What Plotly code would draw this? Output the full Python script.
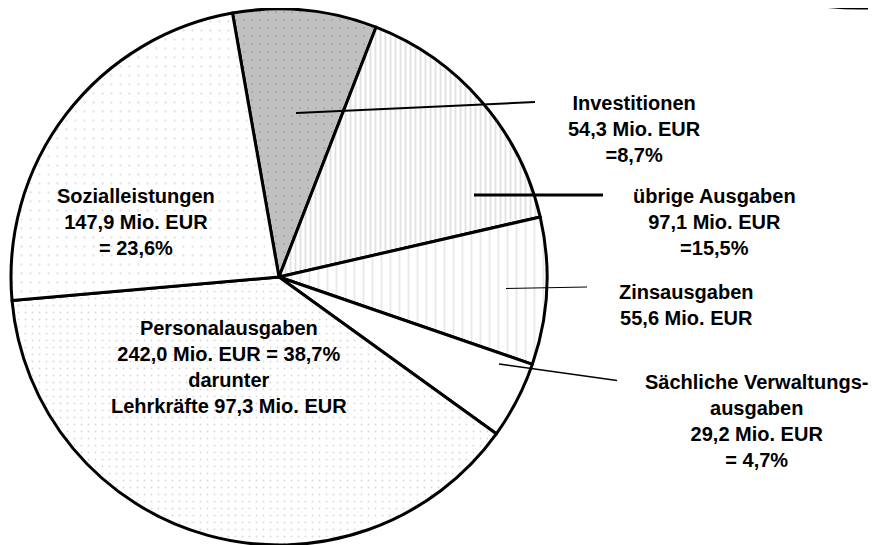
import plotly.graph_objects as go

# ---- data ----
categories = ["Investitionen", "übrige Ausgaben", "Zinsausgaben",
              "Sächliche Verwaltungsausgaben", "Personalausgaben", "Sozialleistungen"]
values_mio_eur = [54.3, 97.1, 55.6, 29.2, 242.0, 147.9]
label_texts = [
    "Investitionen<br>54,3 Mio. EUR<br>=8,7%",
    "übrige Ausgaben<br>97,1 Mio. EUR<br>=15,5%",
    "Zinsausgaben<br>55,6 Mio. EUR",
    "Sächliche Verwaltungs-<br>ausgaben<br>29,2 Mio. EUR<br>= 4,7%",
    "Personalausgaben<br>242,0 Mio. EUR = 38,7%<br>darunter<br>Lehrkräfte 97,3 Mio. EUR",
    "Sozialleistungen<br>147,9 Mio. EUR<br>= 23,6%",
]

# ---- layout / style ----
OFF = 8                      # page body margin
W, H = 876 - OFF, 545 - OFF  # figure size that fits the window
def px(x, y):
    return (x - OFF) / W, 1 - (y - OFF) / H

fill_colors = ["#c0c0c0", "white", "white", "white", "white", "white"]
pattern_shapes = [".", "|", "|", "", ".", "."]
pattern_fg = ["#8f8f8f", "#c4c4c4", "#d2d2d2", "#ffffff", "#b4b4b4", "#c4c4c4"]
pattern_size = [8, 5, 9, 8, 7, 9]
pattern_solid = [0.06, 0.38, 0.2, 0.1, 0.06, 0.05]

# label centres (pixels) and leader lines (pixels)
label_pos = [(634, 129), (714, 222), (686, 305), (756, 421), (229, 367), (136, 222)]
leaders = [((296, 113), (535, 102), 2),
           ((474, 195), (603, 195), 3),
           ((506, 288.5), (587, 287), 1),
           ((499, 364), (617, 380.5), 1.5)]

cx, cy, r = 279, 277, 268
dx0, dx1 = px(cx - r, 0)[0], px(cx + r, 0)[0]
dy1, dy0 = px(0, cy - r)[1], px(0, cy + r)[1]

fig = go.Figure(go.Pie(
    labels=categories,
    values=values_mio_eur,
    sort=False,
    direction="clockwise",
    rotation=-10,
    textinfo="none",
    hoverinfo="label+value",
    showlegend=False,
    domain=dict(x=[dx0, dx1], y=[max(dy0, 0), min(dy1, 1)]),
    marker=dict(
        colors=fill_colors,
        line=dict(color="black", width=3),
        pattern=dict(shape=pattern_shapes, fgcolor=pattern_fg,
                     size=pattern_size, solidity=pattern_solid, fillmode="overlay"),
    ),
))

annotations = []
for txt, (x, y) in zip(label_texts, label_pos):
    ax, ay = px(x, y)
    annotations.append(dict(
        x=ax, y=ay, xref="paper", yref="paper", text="<b>" + txt + "</b>",
        showarrow=False, xanchor="center", yanchor="middle", align="center",
        font=dict(family="Liberation Sans, Arial, sans-serif", size=20, color="black"),
    ))

shapes = []
for (p0, p1, w) in leaders:
    x0, y0 = px(*p0)
    x1, y1 = px(*p1)
    shapes.append(dict(type="line", xref="paper", yref="paper", x0=x0, y0=y0, x1=x1, y1=y1,
                       line=dict(color="black", width=w)))
# partially visible ellipse in the top-right corner
ex0, ey0 = px(710, 8)
ex1, ey1 = px(1010, -132)
shapes.append(dict(type="circle", xref="paper", yref="paper", x0=ex0, y0=ey0, x1=ex1, y1=ey1,
                   line=dict(color="black", width=3), fillcolor="white", layer="below"))

fig.update_layout(
    width=W, height=H,
    margin=dict(l=0, r=0, t=0, b=0),
    paper_bgcolor="white", plot_bgcolor="white",
    annotations=annotations, shapes=shapes,
)

fig.write_html("out.html")
